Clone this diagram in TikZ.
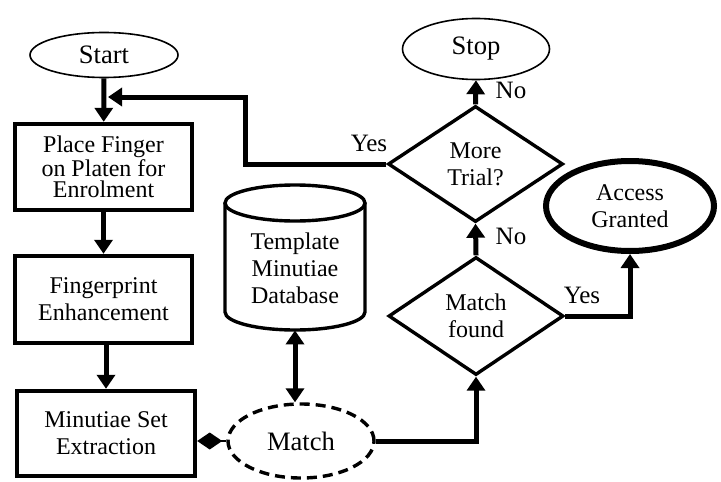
\documentclass[tikz,border=0pt]{standalone}
\usepackage{fontspec}
\setmainfont{Liberation Serif}
\usetikzlibrary{arrows.meta,shapes.geometric}
\begin{document}
\begin{tikzpicture}[x=0.5pt,y=-0.5pt,
  every node/.style={font=\fontsize{12}{13.5}\selectfont, align=center, inner sep=0pt},
  big/.style={font=\fontsize{13.3}{15}\selectfont},
  box/.style={draw, rectangle, line width=2.2pt},
  term/.style={draw, ellipse, line width=0.8pt, big},
  decision/.style={draw, diamond, line width=1.7pt},
  conn/.style={line width=2.5pt, -{Triangle[length=7pt,width=9pt]}},
  lbl/.style={font=\fontsize{12.5}{14}\selectfont}
]
\path[use as bounding box] (0,0) rectangle (721,481);

% nodes
\node[term, minimum width=74pt, minimum height=22.5pt] (start) at (104,55) {Start};
\node[box, minimum width=88.5pt, minimum height=43pt, font=\fontsize{12}{10.5}\selectfont] (place) at (103.5,167) {Place Finger\\on Platen for\\Enrolment};
\node[box, minimum width=88.5pt, minimum height=43.5pt] (finger) at (103.5,299.5) {Fingerprint\\Enhancement};
\node[box, minimum width=89pt, minimum height=42.5pt] (minu) at (106,433.5) {Minutiae Set\\Extraction};

% database cylinder
\draw[line width=1.7pt] (225,203) -- (225,312)
  arc[start angle=180, end angle=360, x radius=35pt, y radius=9pt] -- (365,203);
\draw[line width=1.7pt] (295,203) ellipse[x radius=35pt, y radius=9pt];
\node[minimum width=70pt, minimum height=72.5pt] (db) at (295,257.5) {};
\node (dbtext) at (295,268) {Template\\Minutiae\\Database};

\node[draw, ellipse, line width=1.7pt, dash pattern=on 5pt off 3pt, minimum width=73pt, minimum height=37pt, big] (match) at (301,441) {Match};

\node[decision, minimum width=87.5pt, minimum height=59pt] (found) at (476,316) {Match\\found};
\node[decision, minimum width=87.5pt, minimum height=58pt] (trial) at (475.5,164) {More\\Trial?};
\node[term, minimum width=73.5pt, minimum height=30.5pt] (stop) at (476,49) {Stop};
\node[draw, ellipse, line width=3pt, minimum width=84pt, minimum height=45pt] (access) at (630,206) {Access\\Granted};

% connectors
\draw[conn] (start) -- (place);
\draw[conn] (place) -- (finger);
\draw[conn] (finger.south -| minu.north) -- (minu.north);

\coordinate (corner) at (245,97);
\coordinate (fb) at (108,97);
\draw[conn] (trial.west) -| (corner) -- (fb);

\draw[line width=1pt, {Diamond[length=12.5pt,width=8.5pt]}-] (match.west -| minu.east) -- (match.west);
\draw[line width=2.5pt, {Triangle[length=7pt,width=9pt]}-{Triangle[length=7pt,width=9pt]}] (db.south) -- (db.south |- match.north);

\draw[conn] (match.east) -| (found.south);
\draw[conn] (found.east) -| (access.south);
\draw[conn] (found.north) -- (trial.south);
\draw[conn] (trial.north) -- (stop.south);

% labels
\node[lbl] (yes1) at (369,143) {Yes};
\node[lbl] (yes2) at (582,295) {Yes};
\node[lbl] (no1) at (511,90) {No};
\node[lbl] (no2) at (511,236) {No};
\end{tikzpicture}
\end{document}
